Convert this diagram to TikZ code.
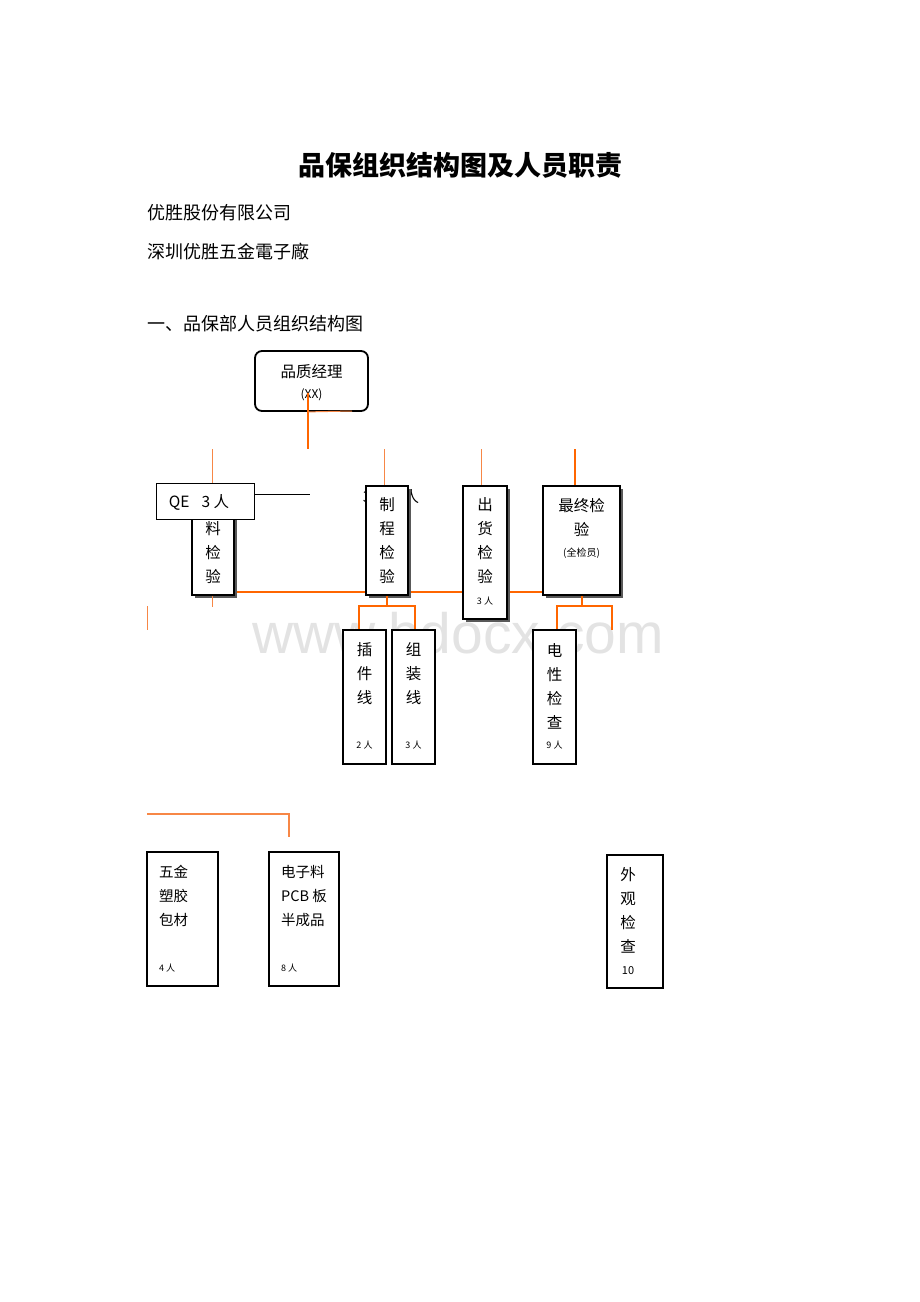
\documentclass[tikz,border=0pt]{standalone}
\usepackage{fontspec}
\setmainfont{Noto Sans CJK SC}
\newfontfamily\filigrane{Liberation Sans}
\usetikzlibrary{shadows}
\definecolor{orangeA}{RGB}{255,102,0}
\definecolor{orangeB}{RGB}{247,135,70}

\begin{document}
\begin{tikzpicture}[x=1pt,y=-1pt,
  boite/.style={draw,line width=1.8pt,fill=white,inner sep=0pt},
  ombre/.style={drop shadow={shadow xshift=3pt,shadow yshift=-3pt,fill=black!65,opacity=1}},
  gros/.style={line width=2.6pt,orangeA},
  moyen/.style={line width=2pt,orangeA},
  fin/.style={line width=1pt,orangeB},
  txt/.style={font=\fontsize{15.5}{24}\selectfont,align=center,inner sep=0pt},
  petit/.style={font=\fontsize{9}{10}\selectfont,inner sep=0pt}]
\useasboundingbox (0,0) rectangle (920,1302);
% filigrane
\node[font=\filigrane\fontsize{57}{60}\selectfont,text=black!11] (wm) at (458,633) {www.bdocx.com};
% titre
\node[font=\fontsize{27}{30}\selectfont\bfseries] (titre) at (460,165) {品保组织结构图及人员职责};
\node[anchor=west,font=\fontsize{18}{20}\selectfont,inner sep=0pt] (soc) at (147,213) {优胜股份有限公司};
\node[anchor=west,font=\fontsize{18}{20}\selectfont,inner sep=0pt] (usine) at (147,252) {深圳优胜五金電子廠};
\node[anchor=west,font=\fontsize{18}{20}\selectfont,inner sep=0pt] (sect) at (147,324) {一、品保部人员组织结构图};
% coordonnees des traits
\coordinate (m0) at (308,393);
\coordinate (m1) at (308,449);
\coordinate (m2) at (352,411);
\coordinate (qa) at (212,449);
\coordinate (pa) at (384,449);
\coordinate (oa) at (481,449);
\coordinate (fa) at (575,449);
\coordinate (h1) at (234,592);
\coordinate (h2) at (543,592);
\coordinate (g0) at (147,606);
\coordinate (b1) at (359,606);
\coordinate (b2) at (415,606);
\coordinate (c1) at (557,606);
\coordinate (c2) at (612,606);
\coordinate (c3) at (612,630);
\coordinate (d0) at (147,814);
\coordinate (d1) at (289,814);
\coordinate (d2) at (289,837);
\coordinate (qe1) at (310,494);
% traits orange derriere les boites
\draw[moyen] (h1) -- (h2);
\draw[fin] (qa) -- (qa |- 0,483);
\draw[fin] (pa) -- (pa |- 0,486);
\draw[fin] (oa) -- (oa |- 0,486);
\draw[gros] (fa) -- (fa |- 0,486);
\draw[fin] (g0) -- ++(0,24);
% le chef
\node[boite,rounded corners=7pt,minimum width=113pt,minimum height=60pt] (chef) at (311.5,381) {};
\node[txt] (chefnom) at (311.5,372) {品质经理};
\node[font=\fontsize{12}{13}\selectfont,inner sep=0pt] (chefxx) at (311.5,395) {(XX)};
\draw[gros] (m0) -- (m1);
\draw[fin] (m0 |- chef.south) -- (m2);
% premiere rangee
\node[txt] (pers) at (391,497) {3\hspace{32pt}人};
\node[boite,ombre,minimum width=42pt,minimum height=90pt] (iqc) at (213,550) {};
\node[txt] (iqct) at (213,553) {料\\检\\验};
\node[boite,ombre,minimum width=42pt,minimum height=109pt] (ipqc) at (387,540.5) {};
\node[txt] (ipqct) at (387,541) {制\\程\\检\\验};
\node[boite,ombre,minimum width=44pt,minimum height=133pt] (oqc) at (485,552.5) {};
\node[txt] (oqct) at (485,541) {出\\货\\检\\验};
\node[petit] (oqcn) at (485,601) {3 人};
\node[boite,ombre,minimum width=77pt,minimum height=109pt] (fqc) at (581.5,540.5) {};
\node[txt] (fqct) at (581.5,517) {最终检\\验};
\node[font=\fontsize{10}{11}\selectfont,inner sep=0pt] (fqcn) at (581.5,553) {(全检员)};
\draw[fin] (iqc.south -| qa) -- ++(0,11);
% QE
\node[draw,line width=0.8pt,fill=white,minimum width=98pt,minimum height=36pt] (qe) at (205,501) {};
\node[txt] (qet) at (199,502) {QE\hspace{12pt}3 人};
\draw[line width=0.8pt] (qe.east |- qe1) -- (qe1);
% deuxieme rangee
\draw[moyen] (ipqc.south) -- (ipqc.south |- b1);
\draw[moyen] (b1 |- 0,630) -- (b1) -- (b2) -- (b2 |- 0,630);
\draw[moyen] (fqc.south) -- (fqc.south |- c1);
\draw[moyen] (c1 |- 0,630) -- (c1) -- (c2) -- (c3);
\node[boite,minimum width=43pt,minimum height=134pt] (cj) at (364.5,697) {};
\node[txt] (cjt) at (364.5,674) {插\\件\\线};
\node[petit] (cjn) at (364.5,745) {2 人};
\node[boite,minimum width=43pt,minimum height=134pt] (zz) at (413.5,697) {};
\node[txt] (zzt) at (413.5,674) {组\\装\\线};
\node[petit] (zzn) at (413.5,745) {3 人};
\node[boite,minimum width=43pt,minimum height=134pt] (dx) at (554.5,697) {};
\node[txt] (dxt) at (554.5,686) {电\\性\\检\\查};
\node[petit] (dxn) at (554.5,745) {9 人};
% troisieme rangee
\draw[fin,line width=1.2pt] (d0) -- (d1) -- (d2);
\node[boite,minimum width=71pt,minimum height=134pt] (wj) at (182.5,919) {};
\node[txt,align=left,anchor=west,font=\fontsize{14.5}{24}\selectfont] (wjt) at (159,896) {五金\\塑胶\\包材};
\node[petit,anchor=west] (wjn) at (159,968) {4 人};
\node[boite,minimum width=70pt,minimum height=134pt] (dz) at (304,919) {};
\node[txt,align=left,anchor=west,font=\fontsize{14.5}{24}\selectfont] (dzt) at (281,896) {电子料\\PCB 板\\半成品};
\node[petit,anchor=west] (dzn) at (281,968) {8 人};
\node[boite,minimum width=56pt,minimum height=133pt] (wg) at (635,921.5) {};
\node[txt] (wgt) at (628,910.5) {外\\观\\检\\查};
\node[font=\fontsize{11}{12}\selectfont,inner sep=0pt] (wgn) at (628,971) {10};
\end{tikzpicture}
\end{document}
